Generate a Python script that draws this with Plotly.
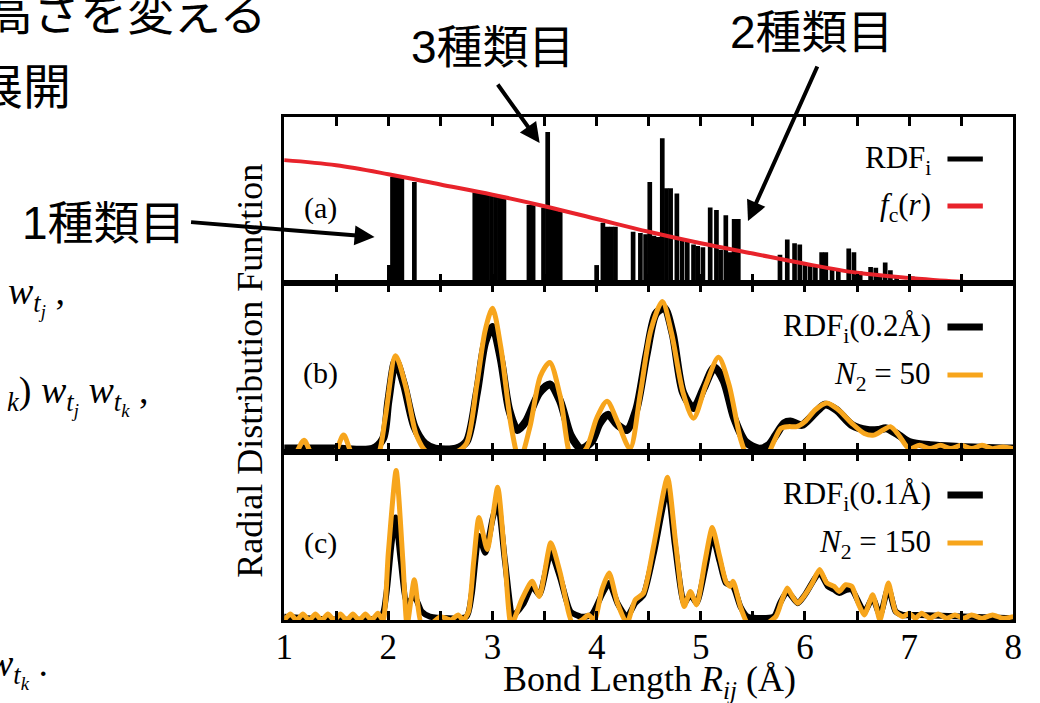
import plotly.graph_objects as go

# ---------------- data ----------------
# panel (a): RDF_i histogram bars (bond length, height) and cutoff function f_c(r)
bar_r = [2.01, 2.04, 2.07, 2.10, 2.13, 2.25,
         2.83, 2.87, 2.91, 2.95, 2.99, 3.03, 3.07, 3.11,
         3.35, 3.39, 3.49, 3.53, 3.57, 3.61, 3.65,
         4.00, 4.06, 4.10, 4.14, 4.18, 4.35, 4.42, 4.47, 4.51, 4.55, 4.59, 4.63,
         4.67, 4.71, 4.77, 4.82, 4.87, 4.93, 4.97, 5.02, 5.09, 5.15, 5.19, 5.24, 5.28, 5.32, 5.36,
         5.76, 5.83, 5.90, 5.95, 6.00, 6.05, 6.10, 6.16, 6.20, 6.26, 6.32, 6.42, 6.47, 6.53,
         6.63, 6.68, 6.72, 6.77, 6.82, 6.88, 7.03]
bar_h = [0.14, 0.83, 0.83, 0.83, 0.82, 0.79,
         0.71, 0.71, 0.70, 0.70, 0.69, 0.68, 0.67, 0.66,
         0.61, 0.61, 0.59, 1.18, 0.58, 0.57, 0.56,
         0.14, 0.47, 0.44, 0.44, 0.44, 0.40, 0.39, 0.38, 0.79, 0.37, 0.36, 1.13,
         0.74, 0.74, 0.70, 0.35, 0.32, 0.30, 0.29, 0.28, 0.59, 0.57, 0.26, 0.53, 0.24, 0.50, 0.50,
         0.22, 0.34, 0.31, 0.30, 0.14, 0.14, 0.13, 0.24, 0.24, 0.12, 0.11, 0.27, 0.24, 0.09,
         0.125, 0.12, 0.07, 0.16, 0.10, 0.05, 0.05]
fc_r = [1.0, 1.5, 2.0, 2.5, 3.0, 3.5, 4.0, 4.5, 5.0, 5.5, 6.0, 6.5, 7.0, 7.5, 8.0]
fc_v = [0.96, 0.92, 0.85, 0.77, 0.69, 0.60, 0.50, 0.40, 0.31, 0.23, 0.15, 0.08, 0.04, 0.01, 0.0]

# panel (b): RDF_i(0.2 Å) and N2 = 50
b_black_r = [1.0, 1.5, 1.85, 1.95, 2.0, 2.07, 2.15, 2.25, 2.35, 2.45, 2.65, 2.75, 2.85, 2.93, 3.0,
             3.08, 3.16, 3.24, 3.32, 3.45, 3.55, 3.65, 3.75, 3.85, 3.95, 4.03, 4.11, 4.2, 4.29,
             4.38, 4.48, 4.57, 4.65, 4.73, 4.83, 4.93, 5.03, 5.13, 5.22, 5.32, 5.43, 5.56, 5.65,
             5.72, 5.80, 5.86, 5.97, 6.08, 6.19, 6.3, 6.45, 6.6, 6.7, 6.78, 6.9, 7.0, 7.2, 7.5, 8.0]
b_black_v = [0.02, 0.02, 0.02, 0.08, 0.30, 0.54, 0.40, 0.15, 0.05, 0.02, 0.02, 0.06, 0.35, 0.65, 0.74,
             0.55, 0.25, 0.13, 0.18, 0.35, 0.40, 0.30, 0.10, 0.02, 0.06, 0.17, 0.22, 0.16, 0.13,
             0.25, 0.58, 0.82, 0.85, 0.70, 0.35, 0.26, 0.38, 0.50, 0.42, 0.20, 0.06, 0.02, 0.04,
             0.10, 0.17, 0.18, 0.16, 0.22, 0.28, 0.25, 0.16, 0.13, 0.13, 0.14, 0.10, 0.06, 0.04, 0.03, 0.02]
b_orange_r = [1.0, 1.1, 1.19, 1.28, 1.4, 1.48, 1.57, 1.66, 1.8, 1.9, 1.97, 2.07, 2.17, 2.27, 2.37,
              2.5, 2.65, 2.75, 2.85, 2.93, 3.0, 3.08, 3.18, 3.26, 3.36, 3.46, 3.55, 3.65, 3.77,
              3.9, 4.0, 4.1, 4.2, 4.32, 4.42, 4.52, 4.63, 4.72, 4.83, 4.93, 5.05, 5.17, 5.27,
              5.38, 5.45, 5.55, 5.63, 5.70, 5.77, 5.84, 5.92, 6.0, 6.1, 6.21, 6.32, 6.45, 6.57,
              6.66, 6.75, 6.82, 6.9, 7.0, 7.1, 7.2, 7.3, 7.4, 7.5, 7.6, 7.7, 7.8, 7.9, 8.0]
b_orange_v = [-0.05, -0.02, 0.07, -0.03, -0.05, -0.02, 0.10, -0.02, -0.06, -0.02, 0.20, 0.57, 0.38, 0.10, 0.0,
              -0.01, 0.0, 0.05, 0.40, 0.72, 0.85, 0.62, 0.15, -0.05, 0.15, 0.45, 0.53, 0.33, -0.05,
              0.02, 0.20, 0.30, 0.18, 0.02, 0.35, 0.72, 0.89, 0.70, 0.35, 0.20, 0.40, 0.56, 0.40,
              0.08, -0.03, -0.06, -0.03, 0.06, 0.14, 0.15, 0.15, 0.18, 0.25, 0.29, 0.25, 0.17, 0.11,
              0.10, 0.13, 0.15, 0.10, 0.02, 0.04, 0.02, 0.04, 0.02, 0.04, 0.02, 0.04, 0.02, 0.03, 0.02]

# panel (c): RDF_i(0.1 Å) and N2 = 150
c_black_r = [1.0, 1.93, 1.98, 2.03, 2.07, 2.12, 2.18, 2.25, 2.32, 2.4, 2.75, 2.8, 2.87, 2.93, 3.0,
             3.05, 3.12, 3.2, 3.3, 3.38, 3.45, 3.56, 3.65, 3.75, 3.85, 3.95, 4.05, 4.12, 4.2,
             4.29, 4.37, 4.45, 4.55, 4.68, 4.75, 4.84, 4.9, 4.96, 5.04, 5.11, 5.18, 5.24, 5.31,
             5.38, 5.45, 5.7, 5.76, 5.83, 5.93, 6.0, 6.14, 6.22, 6.28, 6.33, 6.4, 6.45, 6.57,
             6.65, 6.72, 6.8, 6.87, 6.94, 7.1, 8.0]
c_black_v = [0.02, 0.02, 0.15, 0.45, 0.61, 0.35, 0.10, 0.14, 0.05, 0.02, 0.02, 0.15, 0.50, 0.40, 0.60,
             0.70, 0.35, 0.03, 0.10, 0.20, 0.15, 0.40, 0.25, 0.05, 0.02, 0.03, 0.15, 0.22, 0.10,
             0.02, 0.10, 0.15, 0.40, 0.78, 0.45, 0.10, 0.15, 0.10, 0.30, 0.50, 0.35, 0.22, 0.20,
             0.08, 0.02, 0.02, 0.10, 0.17, 0.10, 0.15, 0.28, 0.20, 0.18, 0.16, 0.18, 0.18, 0.05,
             0.13, 0.03, 0.19, 0.05, 0.03, 0.03, 0.01]
c_orange_r = [1.0, 1.06, 1.12, 1.18, 1.24, 1.30, 1.36, 1.42, 1.48, 1.54, 1.60, 1.66, 1.72, 1.78, 1.84,
              1.90, 1.95, 2.0, 2.075, 2.14, 2.18, 2.25, 2.32, 2.4, 2.5, 2.6, 2.67, 2.72, 2.77, 2.82,
              2.87, 2.95, 3.05, 3.12, 3.18, 3.28, 3.38, 3.45, 3.56, 3.65, 3.77, 3.86, 3.92, 3.98,
              4.05, 4.12, 4.2, 4.29, 4.37, 4.45, 4.55, 4.68, 4.76, 4.84, 4.90, 4.96, 5.04, 5.11,
              5.18, 5.24, 5.28, 5.31, 5.38, 5.45, 5.6, 5.72, 5.78, 5.83, 5.88, 5.93, 6.0, 6.07,
              6.14, 6.21, 6.28, 6.33, 6.39, 6.45, 6.51, 6.57, 6.65, 6.72, 6.80, 6.87, 6.94, 7.0,
              7.06, 7.12, 7.2, 7.28, 7.36, 7.44, 7.52, 7.6, 7.7, 7.8, 7.9, 8.0]
c_orange_v = [0.0, 0.035, 0.0, 0.035, 0.0, 0.035, 0.0, 0.035, 0.0, 0.035, 0.0, 0.035, 0.0, 0.035, 0.0,
              0.04, 0.0, 0.40, 0.89, 0.35, -0.03, 0.24, -0.03, -0.03, 0.02, 0.0, 0.03, 0.0, 0.05, 0.35,
              0.61, 0.42, 0.79, 0.35, -0.03, 0.12, 0.23, 0.14, 0.46, 0.28, -0.02, 0.0, 0.03, 0.0,
              0.18, 0.28, 0.10, -0.02, 0.12, 0.16, 0.45, 0.85, 0.45, 0.08, 0.17, 0.09, 0.35, 0.55,
              0.38, 0.23, 0.20, 0.23, 0.08, -0.02, -0.03, 0.02, 0.12, 0.19, 0.14, 0.10, 0.15, 0.22,
              0.30, 0.22, 0.20, 0.17, 0.21, 0.20, 0.10, 0.03, 0.15, 0.0, 0.22, 0.05, 0.02, 0.04,
              0.01, 0.04, 0.01, 0.035, 0.01, 0.03, 0.01, 0.03, 0.01, 0.03, 0.01, 0.02]

x_ticks = [1, 2, 3, 4, 5, 6, 7, 8]

# ---------------- layout helpers ----------------
W, H = 1040, 703
def px(x):
    return x / W
def py(y):
    return 1 - y / H

BLACK = "#000000"
RED = "#E8232B"
ORANGE = "#F7A51C"
SERIF = "Liberation Serif, Times New Roman, serif"
JP = "Liberation Sans, Noto Sans CJK JP, sans-serif"

fig = go.Figure()

# panel (a)
fig.add_trace(go.Bar(x=bar_r, y=bar_h, width=0.045, marker=dict(color=BLACK, line=dict(width=0)),
                     xaxis="x", yaxis="y", showlegend=False))
fig.add_trace(go.Scatter(x=fc_r, y=fc_v, mode="lines", line=dict(color=RED, width=4, shape="spline"),
                         xaxis="x", yaxis="y", showlegend=False))
# panel (b)
fig.add_trace(go.Scatter(x=b_black_r, y=b_black_v, mode="lines",
                         line=dict(color=BLACK, width=8, shape="spline", smoothing=0.8),
                         xaxis="x2", yaxis="y2", showlegend=False))
fig.add_trace(go.Scatter(x=b_orange_r, y=b_orange_v, mode="lines",
                         line=dict(color=ORANGE, width=5, shape="spline", smoothing=0.8),
                         xaxis="x2", yaxis="y2", showlegend=False))
# panel (c)
fig.add_trace(go.Scatter(x=c_black_r, y=c_black_v, mode="lines",
                         line=dict(color=BLACK, width=6, shape="spline", smoothing=0.6),
                         xaxis="x3", yaxis="y3", showlegend=False))
fig.add_trace(go.Scatter(x=c_orange_r, y=c_orange_v, mode="lines",
                         line=dict(color=ORANGE, width=5, shape="spline", smoothing=0.6),
                         xaxis="x3", yaxis="y3", showlegend=False))

xdom = [px(280), px(1022)]
dom_a = [py(283), py(117)]
dom_b = [py(452), py(283)]
dom_c = [py(620), py(452)]

def xax(anchor, labels):
    return dict(domain=xdom, range=[1, 8], anchor=anchor, showline=True, linecolor=BLACK, linewidth=3,
                mirror="ticks", ticks="inside", ticklen=9, tickwidth=2.5, tickcolor=BLACK,
                tickvals=x_ticks, ticktext=[str(v) for v in x_ticks], showticklabels=labels,
                tickfont=dict(family=SERIF, size=35, color=BLACK), ticklabelstandoff=-6,
                minor=dict(dtick=0.5, tick0=1, ticks="inside", ticklen=9, tickwidth=2.5, tickcolor=BLACK,
                           showgrid=False),
                showgrid=False, zeroline=False, fixedrange=True)

def yax(anchor, dom, rng):
    return dict(domain=dom, range=rng, anchor=anchor, showline=True, linecolor=BLACK, linewidth=3,
                mirror=True, ticks="", showticklabels=False, showgrid=False, zeroline=False)

fig.update_layout(
    width=W, height=H, margin=dict(l=0, r=0, t=0, b=0),
    paper_bgcolor="white", plot_bgcolor="white", showlegend=False, barmode="overlay",
    xaxis=xax("y", False), yaxis=yax("x", dom_a, [0, 1.297]),
    xaxis2=xax("y2", False), yaxis2=yax("x2", dom_b, [0, 1.0]),
    xaxis3=xax("y3", True), yaxis3=yax("x3", dom_c, [0, 1.0]),
)

ann = []
def text(x, y, s, size, family=SERIF, xanchor="center", angle=0):
    ann.append(dict(x=px(x), y=py(y), xref="paper", yref="paper", text=s, showarrow=False,
                    xanchor=xanchor, yanchor="middle", textangle=angle,
                    font=dict(family=family, size=size, color=BLACK)))

# axis titles
text(652, 681, "Bond Length <i>R<sub>ij</sub></i> (Å)", 36)
text(245, 371, "Radial Distribution Function", 36, angle=-90)
# panel labels
text(317, 208, "(a)", 30)
text(317, 373, "(b)", 30)
text(317, 543, "(c)", 30)
# legends (text + line sample)
legend_items = [
    (160, "RDF<sub>i</sub>", BLACK, 5),
    (207, "<i>f</i><sub>c</sub>(<i>r</i>)", RED, 5),
    (328, "RDF<sub>i</sub>(0.2Å)", BLACK, 7),
    (376, "<i>N</i><sub>2</sub> = 50", ORANGE, 5),
    (496, "RDF<sub>i</sub>(0.1Å)", BLACK, 7),
    (544, "<i>N</i><sub>2</sub> = 150", ORANGE, 5),
]
shapes = []
for yy, s, col, lw in legend_items:
    text(940, yy, s, 31, xanchor="right")
    shapes.append(dict(type="line", xref="paper", yref="paper", x0=px(955), x1=px(991),
                       y0=py(yy - 1), y1=py(yy - 1), line=dict(color=col, width=lw)))

# slide texts (Japanese)
text(265, 14, "高さを変える", 47, family=JP, xanchor="right")
text(65, 88, "展開", 48, family=JP, xanchor="right")
text(97, 223, "1種類目", 46, family=JP)
text(493, 47, "3種類目", 46, family=JP)
text(817, 32, "2種類目", 46, family=JP)
# formula fragments
text(-3, 296, "<i>w<sub>t<sub>j</sub></sub></i> ,", 38, xanchor="left")
text(-4, 395, "<sub><i>k</i></sub>) <i>w<sub>t<sub>j</sub></sub></i> <i>w<sub>t<sub>k</sub></sub></i> ,", 38, xanchor="left")
text(42, 668, "<i>w<sub>t<sub>k</sub></sub></i> .", 38, xanchor="right")

# arrows
def arrow(tx, ty, hx, hy):
    ann.append(dict(x=px(hx), y=py(hy), xref="paper", yref="paper", text="", showarrow=True,
                    ax=tx - hx, ay=ty - hy, axref="pixel", ayref="pixel",
                    arrowhead=2, arrowsize=1, arrowwidth=4, arrowcolor=BLACK))
arrow(187, 222, 372, 237)
arrow(497, 83, 540, 143)
arrow(822, 65, 752, 221)

fig.update_layout(annotations=ann, shapes=shapes)
fig.write_html("out.html")
